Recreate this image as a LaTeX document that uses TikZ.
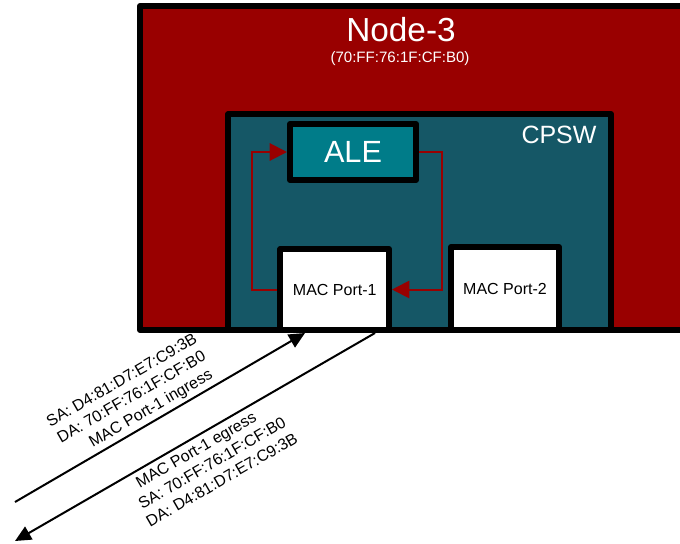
\documentclass[tikz,border=0pt]{standalone}
\usepackage{fontspec}
\setmainfont{Liberation Sans}
\usetikzlibrary{arrows.meta}
\definecolor{nodered}{RGB}{153,0,0}
\definecolor{cpswteal}{RGB}{21,87,102}
\definecolor{aleteal}{RGB}{0,124,137}
\begin{document}
\begin{tikzpicture}[x=0.75pt,y=-0.75pt,
  box/.style={draw=black, line width=4.5pt, line join=round, rectangle, inner sep=0pt},
  redflow/.style={draw=nodered, line width=1.5pt, -{Triangle[length=13pt,width=13pt]}},
  wire/.style={draw=black, line width=1.5pt, -{Triangle[length=12pt,width=11pt]}},
  lbl/.style={font=\fontsize{12pt}{14.6pt}\selectfont, align=center, rotate=30, inner sep=0pt},
  wtext/.style={text=white, inner sep=0pt}
]
\useasboundingbox (0,0) rectangle (680,543);
\fill[white] (0,0) rectangle (680,543);
\begin{scope}
  \clip (0,0) rectangle (680,543);
  \node[box, fill=nodered, minimum width=412.5pt, minimum height=243pt] (node3) at (415,168) {};
\end{scope}
\node[wtext, font=\fontsize{25pt}{30pt}\selectfont] (title) at (401,30) {Node-3};
\node[wtext, font=\fontsize{11.3pt}{13pt}\selectfont] (mac) at (400,59) {(70:FF:76:1F:CF:B0)};

\node[box, fill=cpswteal, minimum width=286.9pt, minimum height=162pt] (cpsw) at (419.75,222) {};
\node[wtext, font=\fontsize{18.75pt}{22pt}\selectfont] (cpswlbl) at (559,135) {CPSW};

\node[box, fill=aleteal, minimum width=94.5pt, minimum height=42pt, text=white,
      font=\fontsize{23pt}{27pt}\selectfont] (ale) at (353,152) {ALE};

\node[box, fill=white, minimum width=81.4pt, minimum height=60.75pt,
      font=\fontsize{12pt}{14pt}\selectfont] (mac1) at (334.75,289.5) {MAC Port-1};
\node[box, fill=white, minimum width=81pt, minimum height=62.25pt,
      font=\fontsize{12pt}{14pt}\selectfont] (mac2) at (505,288.5) {MAC Port-2};

\draw[redflow] (mac1.west) -- ++(-25,0) |- (ale.west);
\draw[redflow] (ale.east) -- ++(23,0) |- (mac1.east);

\coordinate (inA) at (15,502);
\coordinate (inB) at (305,333);
\coordinate (outA) at (375,333);
\coordinate (outB) at (15,541);
\draw[wire] (inA) -- (inB);
\draw[wire] (outA) -- (outB);

\node[lbl] (inlbl) at (132,398) {SA: D4:81:D7:E7:C9:3B\\DA: 70:FF:76:1F:CF:B0\\\hspace*{16.5pt}MAC Port-1 ingress};
\node[lbl] (outlbl) at (212,463) {MAC Port-1 egress\hspace*{11pt}\\SA: 70:FF:76:1F:CF:B0\\DA: D4:81:D7:E7:C9:3B};
\end{tikzpicture}
\end{document}
